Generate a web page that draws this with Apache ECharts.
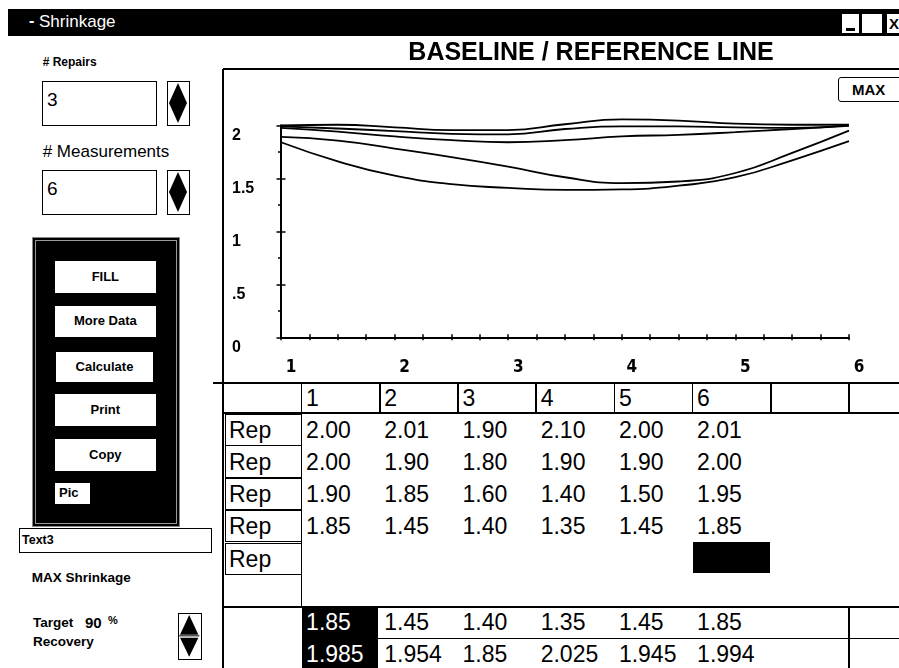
<!DOCTYPE html>
<html>
<head>
<meta charset="utf-8">
<title>Shrinkage</title>
<script src="https://cdn.jsdelivr.net/npm/echarts@6.0.0/dist/echarts.min.js"></script>
<style>
html,body{margin:0;padding:0;background:#fff;}
body{width:899px;height:668px;position:relative;overflow:hidden;font-family:"Liberation Sans",Arial,Helvetica,sans-serif;color:#000;}
.a{position:absolute;white-space:nowrap;box-sizing:border-box;}
#chart{position:absolute;left:0;top:0;width:899px;height:668px;}
</style>
</head>
<body>
<div id="ui"></div>
<div id="chart"></div>
<script>
// ---------- data ----------
const windowTitle = 'Shrinkage';
const chartTitle = 'BASELINE / REFERENCE LINE';
const repairsCount = 3;
const measurementsCount = 6;
const targetRecovery = 90;
const buttonLabels = ['FILL', 'More Data', 'Calculate', 'Print', 'Copy'];
const measurementNos = [1, 2, 3, 4, 5, 6];
const repLabels = ['Rep', 'Rep', 'Rep', 'Rep', 'Rep'];
const rep1 = [2.00, 2.01, 1.90, 2.10, 2.00, 2.01];
const rep2 = [2.00, 1.90, 1.80, 1.90, 1.90, 2.00];
const rep3 = [1.90, 1.85, 1.60, 1.40, 1.50, 1.95];
const rep4 = [1.85, 1.45, 1.40, 1.35, 1.45, 1.85];
const maxShrinkRow = [1.85, 1.45, 1.40, 1.35, 1.45, 1.85];
const recoveryRow = [1.985, 1.954, 1.85, 2.025, 1.945, 1.994];

const curveX = [1, 1.5, 2, 2.5, 3, 3.5, 4, 4.5, 5, 5.5, 6];
const curveA = [2.00, 2.005, 1.98, 1.955, 1.955, 2.01, 2.055, 2.045, 2.015, 2.005, 2.005];
const curveB = [1.99, 1.97, 1.945, 1.92, 1.915, 1.965, 1.99, 1.99, 1.98, 1.975, 2.00];
const curveC = [1.975, 1.94, 1.895, 1.86, 1.84, 1.86, 1.895, 1.91, 1.935, 1.965, 1.995];
const curveD = [1.89, 1.855, 1.78, 1.70, 1.61, 1.51, 1.455, 1.47, 1.55, 1.74, 1.95];
const curveE = [1.84, 1.66, 1.525, 1.445, 1.41, 1.39, 1.395, 1.43, 1.51, 1.67, 1.85];

const xTickLabels = ['1', '2', '3', '4', '5', '6'];
const yTickLabels = ['0', '.5', '1', '1.5', '2'];

// ---------- UI chrome (HTML) ----------
const ui = document.getElementById('ui');
function el(css, html) {
  const d = document.createElement('div');
  d.className = 'a';
  Object.assign(d.style, css);
  if (html != null) d.innerHTML = html;
  ui.appendChild(d);
  return d;
}
function rect(x, y, w, h, extra) {
  return el(Object.assign({left: x + 'px', top: y + 'px', width: w + 'px', height: h + 'px'}, extra || {}));
}
function text(x, yc, s, opt) {
  opt = opt || {};
  const size = opt.size || 13;
  const d = el({left: x + 'px', top: (yc - size * 0.6) + 'px', fontSize: size + 'px',
    lineHeight: (size * 1.2) + 'px', fontWeight: opt.weight || 'normal', color: opt.color || '#000'});
  if (opt.family) d.style.fontFamily = opt.family;
  d.textContent = s;
  return d;
}
function hline(x1, x2, y, w) { rect(x1, y - w / 2, x2 - x1, w, {background: '#000'}); }
function vline(x, y1, y2, w) { rect(x - w / 2, y1, w, y2 - y1, {background: '#000'}); }
function diamondSpinner(x, y, w, h) {
  const d = rect(x, y, w, h, {border: '1.5px solid #000', background: '#fff'});
  const iw = w - 3, ih = h - 3;
  d.innerHTML = '<svg width="' + iw + '" height="' + ih + '" style="display:block"><polygon points="' +
    (iw / 2) + ',1 ' + (iw - 1) + ',' + (ih / 2) + ' ' + (iw / 2) + ',' + (ih - 1) + ' 1,' + (ih / 2) + '" fill="#000"/></svg>';
}
function arrowSpinner(x, y, w, h) {
  const d = rect(x, y, w, h, {border: '1.5px solid #000', background: '#fff'});
  const iw = w - 3, ih = h - 3, m = ih / 2;
  d.innerHTML = '<svg width="' + iw + '" height="' + ih + '" style="display:block">' +
    '<polygon points="' + (iw / 2) + ',1 ' + (iw - 1) + ',' + (m - 1) + ' 1,' + (m - 1) + '" fill="#000"/>' +
    '<line x1="0" y1="' + m + '" x2="' + iw + '" y2="' + m + '" stroke="#000" stroke-width="1"/>' +
    '<polygon points="1,' + (m + 2) + ' ' + (iw - 1) + ',' + (m + 2) + ' ' + (iw / 2) + ',' + (ih - 1) + '" fill="#000"/></svg>';
}

// window title bar
rect(8, 9, 891, 27, {background: '#000'});
text(29, 21, '-', {size: 16, color: '#fff', weight: 'bold'});
text(39, 22.5, windowTitle, {size: 17, color: '#fff'});
rect(842, 14, 17, 19, {background: '#fff'});
rect(846, 28, 9, 3, {background: '#000'});
rect(862, 14, 20, 19, {background: '#fff'});
rect(887, 14, 16, 19, {background: '#fff'});
text(889, 23.5, 'X', {size: 15, weight: 'bold'});

// left controls
text(42.7, 62, '# Repairs', {size: 12, weight: 'bold'});
rect(42, 81, 115, 45, {border: '1.5px solid #000', background: '#fff'});
text(47, 100, String(repairsCount), {size: 19});
diamondSpinner(167, 81, 23, 45);
text(42.7, 152, '# Measurements', {size: 17});
rect(42, 170, 115, 45, {border: '1.5px solid #000', background: '#fff'});
text(47, 189, String(measurementsCount), {size: 19});
diamondSpinner(167, 170, 23, 45);

// black button panel
rect(31.7, 236.7, 148.3, 290, {background: '#000', border: '1px solid #888',
  boxShadow: 'inset 0 0 0 2px #000, inset 0 0 0 3px #999'});
const btnTops = [260.7, 306, 351.7, 394, 439.3];
const btnHeights = [32, 30.7, 30, 32, 31.4];
buttonLabels.forEach(function (lab, i) {
  const bx = (lab === 'Calculate') ? 56 : 55;
  const bw = (lab === 'Calculate') ? 97 : 100.7;
  const b = rect(bx, btnTops[i], bw, btnHeights[i], {background: '#fff', fontWeight: 'bold', fontSize: '13px',
    textAlign: 'center', lineHeight: btnHeights[i] + 'px'});
  b.textContent = lab;
});
const pic = rect(55, 483.3, 35, 20.7, {background: '#fff', fontWeight: 'bold', fontSize: '13px', lineHeight: '20.7px', paddingLeft: '4px'});
pic.textContent = 'Pic';

rect(19.3, 528.3, 193, 25, {border: '1.5px solid #000', background: '#fff'});
text(22, 540.7, 'Text3', {size: 12.5, weight: 'bold'});
text(31.7, 578, 'MAX Shrinkage', {size: 13.5, weight: 'bold'});
text(33, 623, 'Target', {size: 13.5, weight: 'bold'});
text(33, 641.7, 'Recovery', {size: 13.5, weight: 'bold'});
text(85, 623, String(targetRecovery), {size: 15, weight: 'bold'});
text(108, 621, '%', {size: 11, weight: 'bold'});
arrowSpinner(178.3, 613.3, 23.4, 46.7);

// chart frame + MAX button
vline(223, 69, 668, 2);
hline(223, 899, 69, 1.5);
rect(838, 77, 70, 25, {border: '1.5px solid #000', borderRadius: '3px', background: '#fff'});
text(852, 89.5, 'MAX', {size: 15, weight: 'bold'});

// ---------- table ----------
const colX = [];
for (let i = 0; i < 8; i++) colX.push(301.6 + 78.2 * i);
const tFont = 23;
hline(213, 899, 382.7, 2);
hline(222, 899, 412.7, 2);
colX.forEach(function (x) { vline(x, 382.7, 412.7, 1.5); });
measurementNos.forEach(function (n, j) { text(colX[j] + 4.5, 398.3, String(n), {size: tFont}); });

const repRows = [rep1, rep2, rep3, rep4];
const rowCenters = [430.7, 462.3, 495, 526.7, 560];
repLabels.forEach(function (lab, r) {
  const top = rowCenters[r] - 17;
  rect(225, top, 77.3, 32.4, {border: '1.5px solid #000', borderRight: 'none'});
  text(229, rowCenters[r], lab, {size: tFont});
});
vline(301.6, 412.7, 607.3, 1.5);
repRows.forEach(function (row, r) {
  row.forEach(function (v, j) { text(colX[j] + 4.5, rowCenters[r], v.toFixed(2), {size: tFont}); });
});
rect(692.6, 542.3, 77.2, 31, {background: '#000'});

hline(222, 899, 607.3, 2);
rect(301.6, 607.3, 76.8, 60.7, {background: '#000'});
hline(378.3, 899, 638.3, 1.5);
vline(849, 607.3, 668, 1.5);
maxShrinkRow.forEach(function (v, j) {
  text(colX[j] + 4.5, 622.7, v.toFixed(2), {size: tFont, color: j === 0 ? '#fff' : '#000'});
});
recoveryRow.forEach(function (v, j) {
  text(colX[j] + 4.5, 655, String(v), {size: tFont, color: j === 0 ? '#fff' : '#000'});
});

// ---------- ECharts plot ----------
const chart = echarts.init(document.getElementById('chart'), null, {renderer: 'canvas'});
const pts = function (arr) { return curveX.map(function (x, i) { return [x, arr[i]]; }); };
const blackLine = {color: '#000', width: 1.8};
const curves = [curveA, curveB, curveC, curveD, curveE];
const tickStyle = {color: '#000', width: 1.5};
const axisFont = '"Liberation Sans Narrow","DejaVu Sans Condensed","Liberation Sans",Arial,sans-serif';

chart.setOption({
  animation: false,
  backgroundColor: 'transparent',
  graphic: [{
    type: 'text', x: 591, y: 53,
    style: {text: chartTitle, fill: '#000', font: 'bold 25px "Liberation Sans", Arial, sans-serif',
      textAlign: 'center', textVerticalAlign: 'middle', align: 'center', verticalAlign: 'middle'}
  }],
  grid: {left: 281, top: 125.3, width: 568, height: 212, containLabel: false},
  xAxis: [{
    type: 'value', min: 1, max: 6, interval: 1,
    axisLine: {show: true, onZero: false, lineStyle: {color: '#000', width: 2}},
    axisTick: {show: true, length: 3, lineStyle: tickStyle},
    minorTick: {show: true, splitNumber: 4, length: 3, lineStyle: tickStyle},
    splitLine: {show: false},
    axisLabel: {color: '#000', fontSize: 17, fontWeight: 'bold', fontFamily: axisFont, margin: 22,
      padding: [0, 0, 0, 20], formatter: function (v) { return xTickLabels[Math.round(v) - 1]; }}
  }, {
    type: 'value', min: 1, max: 6, interval: 1, position: 'bottom',
    axisLine: {show: false, onZero: false},
    axisTick: {show: true, inside: true, length: 3, lineStyle: tickStyle},
    minorTick: {show: true, splitNumber: 4, length: 3, lineStyle: tickStyle},
    splitLine: {show: false}, axisLabel: {show: false}
  }],
  yAxis: [{
    type: 'value', min: 0, max: 2, interval: 0.5,
    axisLine: {show: true, onZero: false, lineStyle: {color: '#000', width: 2}},
    axisTick: {show: true, length: 4.5, lineStyle: tickStyle},
    minorTick: {show: true, splitNumber: 2, length: 3, lineStyle: tickStyle},
    splitLine: {show: false},
    axisLabel: {color: '#000', fontSize: 16, fontWeight: 'bold', fontFamily: '"Liberation Sans", Arial, sans-serif',
      align: 'left', verticalAlign: 'top', lineHeight: 20, margin: 49,
      formatter: function (v) { return yTickLabels[Math.round(v / 0.5)]; }}
  }, {
    type: 'value', min: 0, max: 2, interval: 0.5, position: 'left',
    axisLine: {show: false, onZero: false},
    axisTick: {show: true, inside: true, length: 4.5, lineStyle: tickStyle},
    minorTick: {show: false},
    splitLine: {show: false}, axisLabel: {show: false}
  }],
  series: curves.map(function (arr, i) {
    return {type: 'line', name: 'curve' + (i + 1), data: pts(arr), smooth: 0.5, symbol: 'none',
      clip: false, lineStyle: blackLine, xAxisIndex: 0, yAxisIndex: 0, z: 3};
  })
});
</script>
</body>
</html>
